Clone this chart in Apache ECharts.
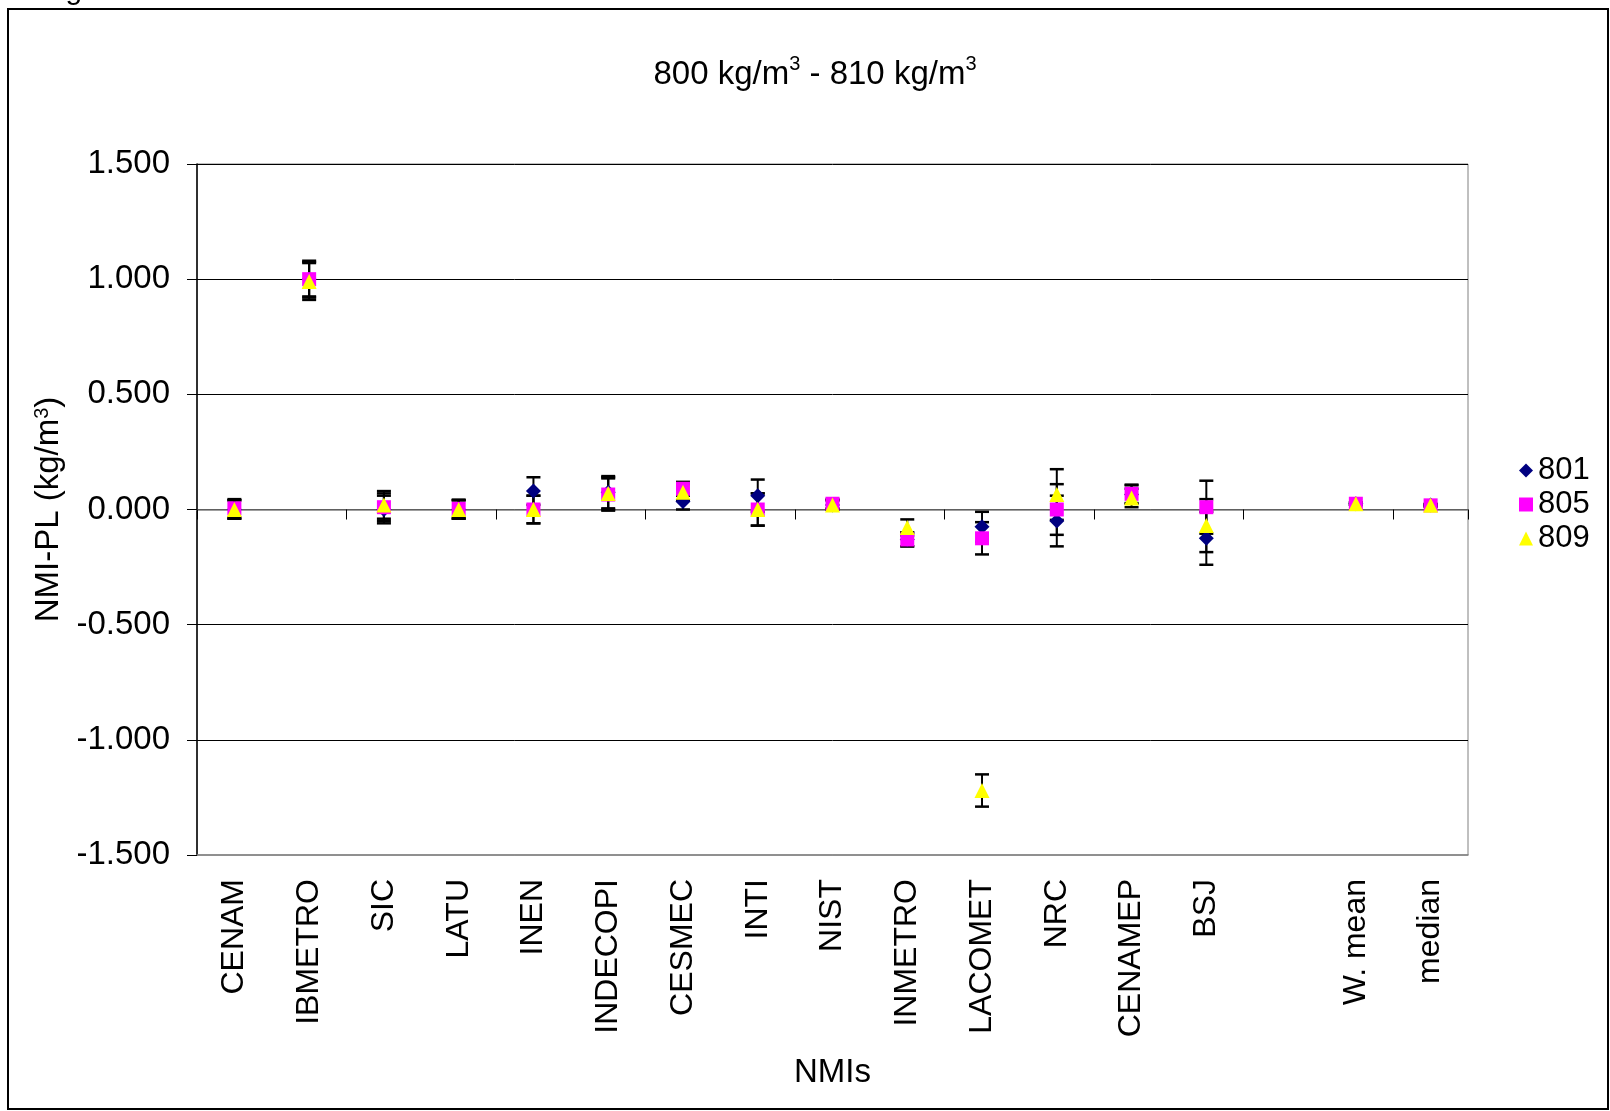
<!DOCTYPE html>
<html>
<head>
<meta charset="utf-8">
<script src="https://cdn.jsdelivr.net/npm/echarts@6/dist/echarts.min.js"></script>
<style>
html,body{margin:0;padding:0;background:#fff;}
#chart{width:1610px;height:1111px;}
</style>
</head>
<body>
<div id="chart"></div>
<script>
var categories = ['CENAM','IBMETRO','SIC','LATU','INEN','INDECOPI','CESMEC','INTI','NIST','INMETRO','LACOMET','NRC','CENAMEP','BSJ','','W. mean','median'];
var yTicks = [-1.5, -1.0, -0.5, 0, 0.5, 1.0, 1.5];

var values801 = [0.000, 1.000, 0.000, 0.000, 0.080, 0.075, 0.035, 0.060, 0.020, -0.130, -0.075, -0.050, 0.065, -0.125, null, 0.025, 0.020];
var errors801 = [0.040, 0.080, 0.060, 0.040, 0.060, 0.070, 0.035, 0.070, 0.020, 0.030, 0.065, 0.110, 0.040, 0.115, null, 0.005, 0.005];

var values805 = [0.005, 1.000, 0.010, 0.003, 0.000, 0.065, 0.090, 0.000, 0.025, -0.130, -0.125, 0.000, 0.068, 0.010, null, 0.025, 0.018];
var errors805 = [0.040, 0.075, 0.060, 0.040, 0.060, 0.070, 0.030, 0.070, 0.020, 0.030, 0.070, 0.110, 0.040, 0.115, null, 0.005, 0.005];

var values809 = [0.000, 0.990, 0.020, 0.000, 0.000, 0.070, 0.075, 0.000, 0.020, -0.078, -1.220, 0.065, 0.050, -0.070, null, 0.025, 0.018];
var errors809 = [0.040, 0.080, 0.060, 0.040, 0.060, 0.070, 0.035, 0.070, 0.020, 0.035, 0.070, 0.110, 0.040, 0.115, null, 0.005, 0.005];

var FONT = "'Liberation Sans', Arial, sans-serif";

function errData(vals, errs) {
  var out = [];
  for (var i = 0; i < vals.length; i++) {
    if (vals[i] === null) continue;
    out.push([i, vals[i], errs[i]]);
  }
  return out;
}
function renderErr(params, api) {
  var x = api.value(0), v = api.value(1), e = api.value(2);
  var top = api.coord([x, v + e]);
  var bot = api.coord([x, v - e]);
  var hw = 7;
  var st = { stroke: '#000', lineWidth: 2 };
  var cap = { stroke: '#000', lineWidth: 2.5 };
  return {
    type: 'group',
    children: [
      { type: 'line', shape: { x1: top[0], y1: top[1], x2: bot[0], y2: bot[1] }, style: st },
      { type: 'line', shape: { x1: top[0] - hw, y1: top[1], x2: top[0] + hw, y2: top[1] }, style: cap },
      { type: 'line', shape: { x1: bot[0] - hw, y1: bot[1], x2: bot[0] + hw, y2: bot[1] }, style: cap }
    ]
  };
}
function errSeries(name, vals, errs) {
  return {
    name: name, type: 'custom', xAxisIndex: 0, yAxisIndex: 0,
    data: errData(vals, errs), encode: { x: 0, y: 1 },
    renderItem: renderErr, silent: true, z: 3
  };
}
function ptSeries(name, vals, symbol, color, size) {
  return {
    name: name, type: 'scatter', xAxisIndex: 0, yAxisIndex: 0,
    data: vals, symbol: symbol, symbolSize: size,
    itemStyle: { color: color, opacity: 1 }, z: 4
  };
}

var chart = echarts.init(document.getElementById('chart'), null, { renderer: 'canvas' });
chart.setOption({
  backgroundColor: '#fff',
  animation: false,
  textStyle: { fontFamily: FONT },
  title: {
    text: '800 kg/m{s|3} - 810 kg/m{s|3}',
    left: 810, top: 49, textAlign: 'center',
    textStyle: {
      fontFamily: FONT, fontSize: 33, fontWeight: 'normal', color: '#000', lineHeight: 42,
      rich: { s: { fontFamily: FONT, fontSize: 20, color: '#000', verticalAlign: 'top', lineHeight: 22 } }
    }
  },
  graphic: [
    { type: 'rect', shape: { x: 8, y: 9, width: 1600, height: 1100 }, style: { fill: 'none', stroke: '#000', lineWidth: 2 }, z: 100 },
    { type: 'text', left: -8, top: -24, style: { text: '810 kg/m³', font: '30px ' + FONT, fill: '#000' } }
  ],
  legend: {
    orient: 'vertical', left: 1514, top: 450,
    data: ['801', '805', '809'],
    itemWidth: 14, itemHeight: 14, itemGap: 3,
    textStyle: { fontFamily: FONT, fontSize: 31, color: '#000', lineHeight: 30 },
    selectedMode: false
  },
  grid: { left: 197, right: 142, top: 164, bottom: 256, show: true, borderColor: '#808080', borderWidth: 1, backgroundColor: 'transparent' },
  xAxis: [
    {
      type: 'category', data: categories, position: 'bottom', boundaryGap: true,
      axisLine: { onZero: true, lineStyle: { color: '#808080', width: 1.5 } },
      axisTick: { show: true, length: 10, inside: false, lineStyle: { color: '#000', width: 1 } },
      axisLabel: { show: false }, splitLine: { show: false }
    },
    {
      type: 'category', data: categories, position: 'bottom', boundaryGap: true,
      axisLine: { onZero: false, lineStyle: { color: '#808080', width: 1.5 } },
      axisTick: { show: false },
      axisLabel: { show: true, rotate: 90, margin: 24, interval: 0, fontFamily: FONT, fontSize: 32, color: '#000' },
      name: 'NMIs', nameLocation: 'middle', nameGap: 201,
      nameTextStyle: { fontFamily: FONT, fontSize: 33, color: '#000' }
    }
  ],
  yAxis: {
    type: 'value', min: -1.5, max: 1.5, interval: 0.5,
    axisLine: { show: true, lineStyle: { color: '#000', width: 1.5 } },
    axisTick: { show: true, length: 10, lineStyle: { color: '#000' } },
    axisLabel: { margin: 27, fontFamily: FONT, fontSize: 33, color: '#000',
      formatter: function (v) { return v.toFixed(3); } },
    splitLine: { show: true, showMinLine: false, lineStyle: { color: '#000', width: 1 } },
    name: 'NMI-PL (kg/m{s|3})', nameLocation: 'middle', nameGap: 130,
    nameTextStyle: { fontFamily: FONT, fontSize: 33, color: '#000',
      rich: { s: { fontFamily: FONT, fontSize: 20, color: '#000', verticalAlign: 'top', lineHeight: 20 } } }
  },
  series: [
    errSeries('e801', values801, errors801),
    ptSeries('801', values801, 'diamond', '#000080', 15),
    errSeries('e805', values805, errors805),
    ptSeries('805', values805, 'rect', '#FF00FF', 14),
    errSeries('e809', values809, errors809),
    ptSeries('809', values809, 'triangle', '#FFFF00', 15)
  ]
});
</script>
</body>
</html>
